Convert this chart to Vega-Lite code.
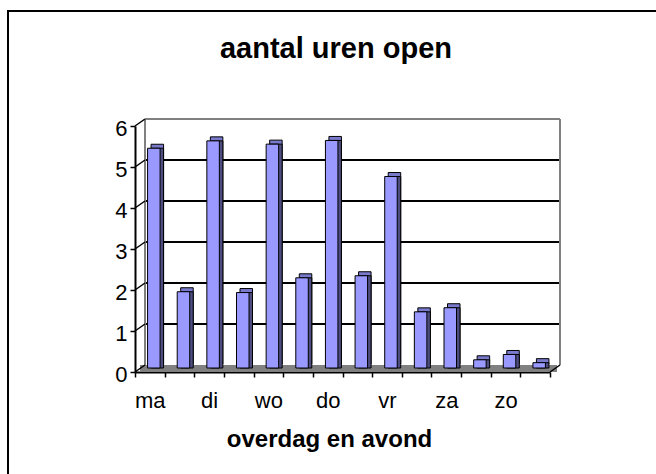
{
  "$schema": "https://vega.github.io/schema/vega-lite/v6.json",
  "width": 660,
  "height": 470,
  "autosize": {"type": "none"},
  "padding": {"left": 8, "top": 11, "right": 0, "bottom": 0},
  "background": "white",
  "config": {"view": {"stroke": "black", "strokeWidth": 2}, "font": "Liberation Sans"},
  "title": {"text": "aantal uren open", "font": "Liberation Sans", "fontSize": 29, "fontWeight": "bold", "color": "black", "anchor": "middle", "frame": "group", "baseline": "alphabetic", "offset": -76, "dx": -2},
  "datasets": {
    "bars": [
      {"bar": "ma overdag", "dag": "ma", "deel": "overdag", "uren": 5.36},
      {"bar": "ma avond", "dag": "ma", "deel": "avond", "uren": 1.86},
      {"bar": "di overdag", "dag": "di", "deel": "overdag", "uren": 5.54},
      {"bar": "di avond", "dag": "di", "deel": "avond", "uren": 1.84},
      {"bar": "wo overdag", "dag": "wo", "deel": "overdag", "uren": 5.46},
      {"bar": "wo avond", "dag": "wo", "deel": "avond", "uren": 2.2},
      {"bar": "do overdag", "dag": "do", "deel": "overdag", "uren": 5.55},
      {"bar": "do avond", "dag": "do", "deel": "avond", "uren": 2.25},
      {"bar": "vr overdag", "dag": "vr", "deel": "overdag", "uren": 4.67},
      {"bar": "vr avond", "dag": "vr", "deel": "avond", "uren": 1.37},
      {"bar": "za overdag", "dag": "za", "deel": "overdag", "uren": 1.47},
      {"bar": "za avond", "dag": "za", "deel": "avond", "uren": 0.2},
      {"bar": "zo overdag", "dag": "zo", "deel": "overdag", "uren": 0.33},
      {"bar": "zo avond", "dag": "zo", "deel": "avond", "uren": 0.13}
    ],
    "grid": [{"v": 1}, {"v": 2}, {"v": 3}, {"v": 4}, {"v": 5}],
    "ticks": [{"v": 0}, {"v": 1}, {"v": 2}, {"v": 3}, {"v": 4}, {"v": 5}, {"v": 6}],
    "top": [{"v": 6}],
    "floor": [{"v": 0}]
  },
  "layer": [
    {
      "layer": [
        {
          "data": {"name": "floor"},
          "mark": {"type": "rect", "fill": "#808080", "xOffset": -5, "x2Offset": -3, "y2Offset": -7},
          "encoding": {
            "x": {"datum": 0, "type": "quantitative", "scale": {"domain": [0, 1], "range": [137, 552]}, "axis": null},
            "x2": {"datum": 1},
            "y": {"field": "v", "type": "quantitative", "scale": {"domain": [0, 6], "range": [361, 115], "nice": false}, "title": null},
            "y2": {"field": "v"}
          }
        },
        {
          "data": {"name": "grid"},
          "mark": {"type": "rule", "color": "black", "strokeWidth": 2, "yOffset": -7},
          "encoding": {
            "x": {"datum": 0, "type": "quantitative"},
            "x2": {"datum": 1},
            "y": {"field": "v", "type": "quantitative", "title": null}
          }
        },
        {
          "data": {"name": "top"},
          "mark": {"type": "rule", "color": "#808080", "strokeWidth": 2, "yOffset": -7},
          "encoding": {
            "x": {"datum": 0, "type": "quantitative"},
            "x2": {"datum": 1},
            "y": {"field": "v", "type": "quantitative", "title": null}
          }
        },
        {
          "data": {"name": "floor"},
          "mark": {"type": "rule", "color": "#808080", "strokeWidth": 2, "yOffset": -7, "y2Offset": -7},
          "encoding": {
            "x": {"datum": 0, "type": "quantitative"},
            "y": {"datum": 0, "type": "quantitative", "title": null},
            "y2": {"datum": 6}
          }
        },
        {
          "data": {"name": "floor"},
          "mark": {"type": "rule", "color": "#808080", "strokeWidth": 2, "yOffset": -7, "y2Offset": -7},
          "encoding": {
            "x": {"datum": 1, "type": "quantitative"},
            "y": {"datum": 0, "type": "quantitative", "title": null},
            "y2": {"datum": 6}
          }
        },
        {
          "data": {"name": "ticks"},
          "mark": {"type": "rule", "color": "black", "strokeWidth": 1.5, "xOffset": -10, "y2Offset": -7},
          "encoding": {
            "x": {"datum": 0, "type": "quantitative"},
            "x2": {"datum": 0},
            "y": {"field": "v", "type": "quantitative", "title": null},
            "y2": {"field": "v"}
          }
        },
        {
          "data": {"name": "floor"},
          "mark": {"type": "rule", "color": "black", "strokeWidth": 1.5, "xOffset": -10, "y2Offset": -7},
          "encoding": {
            "x": {"datum": 1, "type": "quantitative"},
            "x2": {"datum": 1},
            "y": {"field": "v", "type": "quantitative", "title": null},
            "y2": {"field": "v"}
          }
        }
      ]
    },
    {
      "data": {"name": "bars"},
      "layer": [
        {
          "mark": {"type": "bar", "width": 12.5, "fill": "#7A7ACC", "stroke": "black", "strokeWidth": 1, "xOffset": 7.5, "yOffset": -8, "y2Offset": -8},
          "encoding": {
            "x": {
              "field": "bar", "type": "nominal", "sort": null,
              "scale": {"range": [127, 542], "paddingInner": 0, "paddingOuter": 0},
              "axis": {
                "orient": "bottom",
                "offset": -109,
                "labelExpr": "split(datum.label, ' ')[1] == 'overdag' ? split(datum.label, ' ')[0] : ''",
                "labelFont": "Liberation Sans", "labelFontSize": 22, "labelColor": "black",
                "labelBaseline": "alphabetic", "labelPadding": 30, "labelAngle": 0, "labelOverlap": false,
                "tickBand": "extent", "tickColor": "black", "tickSize": 5, "tickWidth": 1.5,
                "domainColor": "black", "domainWidth": 2, "grid": false,
                "title": "overdag en avond", "titleFont": "Liberation Sans", "titleFontSize": 24,
                "titleFontWeight": "bold", "titleColor": "black", "titleBaseline": "alphabetic",
                "titleX": 321, "titleY": 74
              }
            },
            "y": {
              "field": "uren", "type": "quantitative", "title": null,
              "axis": {
                "offset": -127, "values": [0, 1, 2, 3, 4, 5, 6], "format": "d", "grid": false,
                "labelFont": "Liberation Sans", "labelFontSize": 22, "labelColor": "black",
                "labelPadding": 3, "labelOffset": 2, "tickSize": 5, "tickColor": "black", "tickWidth": 1.5,
                "domainColor": "black", "domainWidth": 2
              }
            }
          }
        },
        {
          "mark": {"type": "bar", "width": 12.5, "fill": "#4D4D80", "stroke": "black", "strokeWidth": 1, "xOffset": 7.5, "yOffset": -4, "y2Offset": -4},
          "encoding": {
            "x": {"field": "bar", "type": "nominal", "sort": null},
            "y": {"field": "uren", "type": "quantitative", "title": null}
          }
        },
        {
          "mark": {"type": "bar", "width": 12.5, "fill": "#9999FF", "stroke": "black", "strokeWidth": 1, "xOffset": 4, "yOffset": -4, "y2Offset": -4},
          "encoding": {
            "x": {"field": "bar", "type": "nominal", "sort": null},
            "y": {"field": "uren", "type": "quantitative", "title": null}
          }
        }
      ]
    }
  ],
  "resolve": {"scale": {"x": "independent"}}
}
